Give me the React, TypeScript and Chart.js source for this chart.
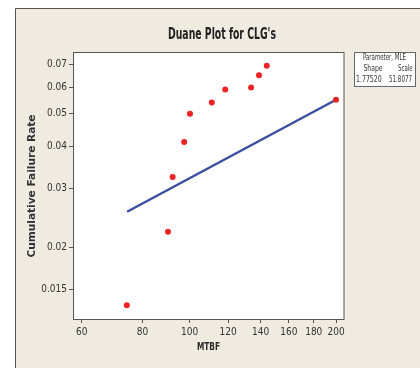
import React, { useEffect, useRef } from "react";
import { Chart, registerables } from "chart.js";

Chart.register(...registerables);

const mtbf = [74.3, 90.3, 92.3, 97.5, 100.2, 111.1, 118.4, 133.8, 138.9, 144.1, 200.0];
const failureRate = [0.01344, 0.02227, 0.0324, 0.04119, 0.05001, 0.05408, 0.05912, 0.05994, 0.06511, 0.06953, 0.05506];
const fitMtbf = [74.4, 200];
const fitRate = [0.02554, 0.05506];
const xTicks = [60, 80, 100, 120, 140, 160, 180, 200];
const yTicks = [0.015, 0.02, 0.03, 0.04, 0.05, 0.06, 0.07];
const titleText = "Duane Plot for CLG's";
const xTitle = "MTBF";
const yTitle = "Cumulative Failure Rate";
const tableRows = [["Parameter, MLE"], ["Shape", "Scale"], ["1.77520", "51.8077"]];

const COND = '"DejaVu Sans Condensed", "Liberation Sans Narrow", sans-serif';

function fitText(ctx: any, text: string, left: number, cy: number, width: number) {
  const w = ctx.measureText(text).width;
  const s = width / w;
  ctx.save();
  ctx.translate(left, cy);
  ctx.scale(s, 1);
  ctx.textAlign = "left";
  ctx.textBaseline = "middle";
  ctx.fillText(text, 0, 0);
  ctx.restore();
}

const decorPlugin = {
  id: "decor",
  beforeDraw(chart: any) {
    const ctx = chart.ctx;
    const W = chart.width;
    const H = chart.height;
    ctx.save();
    ctx.fillStyle = "#ffffff";
    ctx.fillRect(0, 0, W, H);
    ctx.fillStyle = "#efebe1";
    ctx.fillRect(15, 8, W - 15, H - 8);
    ctx.strokeStyle = "#555555";
    ctx.lineWidth = 1;
    ctx.beginPath();
    ctx.moveTo(15.5, H);
    ctx.lineTo(15.5, 8.5);
    ctx.lineTo(W, 8.5);
    ctx.stroke();
    const a = chart.chartArea;
    ctx.fillStyle = "#ffffff";
    ctx.fillRect(a.left, a.top, a.right - a.left, a.bottom - a.top);
    ctx.restore();
  },
  afterDraw(chart: any) {
    const ctx = chart.ctx;
    const a = chart.chartArea;
    ctx.save();
    // plot frame
    ctx.strokeStyle = "#555555";
    ctx.lineWidth = 1;
    ctx.strokeRect(a.left + 0.5, a.top + 0.5, a.right - a.left - 0.5, a.bottom - a.top);
    // title
    ctx.fillStyle = "#222222";
    ctx.font = "bold 15px " + COND;
    fitText(ctx, titleText, 168, 35.5, 108);
    // x title
    ctx.font = "bold 11px " + COND;
    ctx.fillStyle = "#2a2a2a";
    fitText(ctx, xTitle, 197, 347.5, 23);
    // y title
    ctx.save();
    ctx.translate(32.5, 186);
    ctx.rotate(-Math.PI / 2);
    ctx.font = "bold 10px 'DejaVu Sans', sans-serif";
    ctx.fillStyle = "#333333";
    ctx.textAlign = "center";
    ctx.textBaseline = "middle";
    const yw = ctx.measureText(yTitle).width;
    ctx.scale(143 / yw, 1);
    ctx.fillText(yTitle, 0, 0);
    ctx.restore();
    // parameter table
    ctx.fillStyle = "#ffffff";
    ctx.fillRect(354, 52, 61, 35);
    ctx.strokeStyle = "#666666";
    ctx.strokeRect(354.5, 52.5, 61, 34);
    ctx.fillStyle = "#333333";
    ctx.font = "8px " + COND;
    fitText(ctx, tableRows[0][0], 363, 58, 43);
    fitText(ctx, tableRows[1][0], 363.5, 69, 19);
    fitText(ctx, tableRows[1][1], 398, 69, 14.7);
    fitText(ctx, tableRows[2][0], 356, 80, 25.7);
    fitText(ctx, tableRows[2][1], 389, 80, 23);
    ctx.restore();
  },
};

export default function App() {
  const ref = useRef<HTMLCanvasElement | null>(null);
  useEffect(() => {
    if (!ref.current) return;
    const chart = new Chart(ref.current, {
      type: "scatter",
      data: {
        datasets: [
          {
            label: "Fit",
            data: fitMtbf.map((x, i) => ({ x, y: fitRate[i] })),
            showLine: true,
            borderColor: "#3a4f9f",
            borderWidth: 2.5,
            pointRadius: 0,
            order: 2,
          },
          {
            label: "Observed",
            data: mtbf.map((x, i) => ({ x, y: failureRate[i] })),
            backgroundColor: "#ee2424",
            borderColor: "#ee2424",
            pointRadius: 3,
            borderWidth: 0,
            order: 1,
          },
        ],
      },
      options: {
        responsive: false,
        animation: false,
        devicePixelRatio: 1,
        layout: { padding: { left: 0, right: 76, top: 52, bottom: 0 } },
        plugins: {
          legend: { display: false },
          title: { display: false },
          tooltip: { enabled: false },
        },
        scales: {
          x: {
            type: "logarithmic",
            min: 57.6,
            max: 207.7,
            afterBuildTicks: (s: any) => {
              s.ticks = xTicks.map((v) => ({ value: v }));
            },
            afterFit: (s: any) => {
              s.height = 49;
            },
            ticks: {
              callback: (v: any) => String(v),
              color: "#333333",
              font: { family: COND, size: 10 },
              padding: 3,
              maxRotation: 0,
              autoSkip: false,
            },
            grid: { drawOnChartArea: false, drawTicks: true, tickLength: 4, color: "#555555" },
            border: { display: false },
          },
          y: {
            type: "logarithmic",
            min: 0.01224,
            max: 0.0764,
            afterBuildTicks: (s: any) => {
              s.ticks = yTicks.map((v) => ({ value: v }));
            },
            afterFit: (s: any) => {
              s.width = 73;
            },
            ticks: {
              callback: (v: any) => String(v),
              color: "#333333",
              font: { family: COND, size: 10 },
              padding: 2,
              autoSkip: false,
            },
            grid: { drawOnChartArea: false, drawTicks: true, tickLength: 4, color: "#555555" },
            border: { display: false },
          },
        },
      },
      plugins: [decorPlugin],
    } as any);
    return () => chart.destroy();
  }, []);
  return (
    <div style={{ position: "absolute", left: 0, top: 0, width: 420, height: 368 }}>
      <canvas ref={ref} width={420} height={368} style={{ display: "block" }} />
    </div>
  );
}
